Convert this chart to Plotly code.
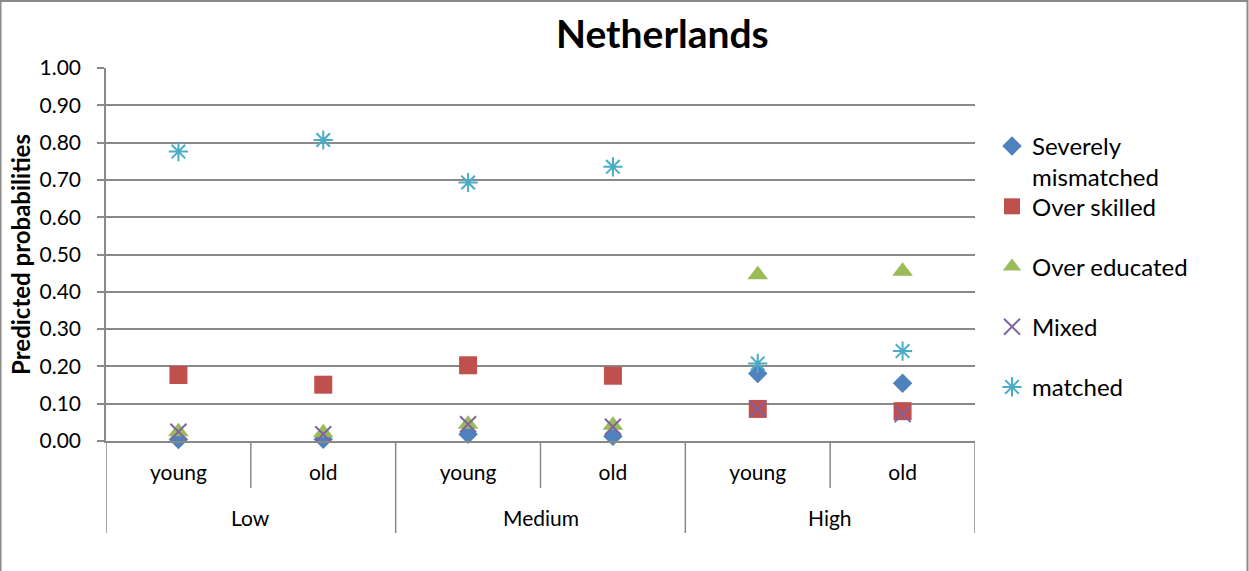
import plotly.graph_objects as go

# Education level groups and age categories along the x axis
groups = ["Low", "Medium", "High"]
ages = ["young", "old", "young", "old", "young", "old"]

# Predicted probabilities per mismatch type
severely_mismatched = [0.004, 0.005, 0.018, 0.013, 0.181, 0.155]
over_skilled = [0.177, 0.151, 0.203, 0.175, 0.086, 0.080]
over_educated = [0.025, 0.022, 0.045, 0.042, 0.446, 0.455]
mixed = [0.025, 0.018, 0.045, 0.038, 0.086, 0.072]
matched = [0.776, 0.807, 0.693, 0.735, 0.208, 0.241]

y_ticks = [i / 10 for i in range(11)]

FONT = "Lato"
GRID = "#898989"
xpos = list(range(len(ages)))

series = [
    ("Severely", severely_mismatched, "diamond", "#4F81BD", 15, 0),
    ("Over skilled", over_skilled, "square", "#C0504D", 18, 0),
    ("Over educated", over_educated, "triangle-up", "#9BBB59", 18, 0),
    ("Mixed", mixed, "x-thin-open", "#8064A2", 16, 2),
    ("matched", matched, "asterisk-open", "#4BACC6", 16, 2),
]

fig = go.Figure()
for i, (name, vals, sym, col, size, lw) in enumerate(series):
    fig.add_trace(go.Scatter(
        x=xpos, y=vals, mode="markers", name=name,
        legendgroup=f"g{i}", cliponaxis=False,
        marker=dict(symbol=sym, color=col, size=size,
                    line=dict(color=col, width=lw)),
    ))

# Category boundary lines below the axis
shapes = []
n_per_group = len(ages) // len(groups)
for g in range(len(groups) + 1):
    xb = g * n_per_group - 0.5
    shapes.append(dict(type="line", xref="x", yref="paper", x0=xb, x1=xb,
                       y0=0, y1=-0.2466, line=dict(color=GRID, width=1.5)))
for g in range(len(groups)):
    for k in range(1, n_per_group):
        xb = g * n_per_group + k - 0.5
        shapes.append(dict(type="line", xref="x", yref="paper", x0=xb, x1=xb,
                           y0=0, y1=-0.126, line=dict(color=GRID, width=1.5)))

# Chart frame (top, left, right)
px_w, px_h = 869, 373
fx0 = -106 / px_w
fx1 = (1247.5 - 106) / px_w
fy_top = 1 + 67 / px_h
fy_bot = 1 - (571 - 68) / px_h - 0.01
shapes.append(dict(type="path", xref="paper", yref="paper",
                   path=f"M {fx0+0.5/px_w},{fy_bot} L {fx0+0.5/px_w},{fy_top} L {fx1},{fy_top} L {fx1},{fy_bot}",
                   line=dict(color=GRID, width=2)))

annotations = []
for g, label in enumerate(groups):
    annotations.append(dict(x=g * n_per_group + (n_per_group - 1) / 2, y=-0.2064,
                            xref="x", yref="paper", text=label, showarrow=False,
                            yanchor="middle", font=dict(family=FONT, size=21, color="#000")))
annotations.append(dict(x=(662 - 106) / px_w, y=1 + (68 - 33) / px_h, xref="paper", yref="paper",
                        text="<b>Netherlands</b>", showarrow=False, yanchor="middle",
                        font=dict(family=FONT, size=39, color="#000")))
annotations.append(dict(x=(1030 - 106) / px_w, y=1 - (176 - 68) / px_h, xref="paper", yref="paper",
                        text="mismatched", showarrow=False, xanchor="left", yanchor="middle",
                        font=dict(family=FONT, size=24, color="#000")))

fig.update_layout(
    width=1249, height=571,
    margin=dict(l=106, r=274, t=68, b=130),
    paper_bgcolor="white", plot_bgcolor="white",
    font=dict(family=FONT, color="#000"),
    showlegend=True,
    legend=dict(x=(992 - 106) / px_w, xanchor="left", y=1 - (124 - 68) / px_h, yanchor="top",
                font=dict(family=FONT, size=24, color="#000"),
                tracegroupgap=26, itemwidth=30, bgcolor="rgba(0,0,0,0)"),
    xaxis=dict(range=[-0.5, len(ages) - 0.5], tickvals=xpos, ticktext=ages,
               showgrid=False, zeroline=False, showline=True, linecolor=GRID, linewidth=1.5,
               ticks="", ticklabelstandoff=12,
               tickfont=dict(family=FONT, size=21, color="#000")),
    yaxis=dict(range=[0, 1], tickvals=y_ticks, tickformat=".2f",
               showgrid=True, gridcolor=GRID, gridwidth=1.5, zeroline=False,
               showline=True, linecolor=GRID, linewidth=1.5,
               ticks="outside", ticklen=7, tickcolor=GRID, tickwidth=1.5,
               ticklabelstandoff=12,
               tickfont=dict(family=FONT, size=21, color="#000"),
               title=dict(text="<b>Predicted probabilities</b>", standoff=2,
                          font=dict(family=FONT, size=24, color="#000"))),
    shapes=shapes, annotations=annotations,
)

fig.write_html("out.html")
